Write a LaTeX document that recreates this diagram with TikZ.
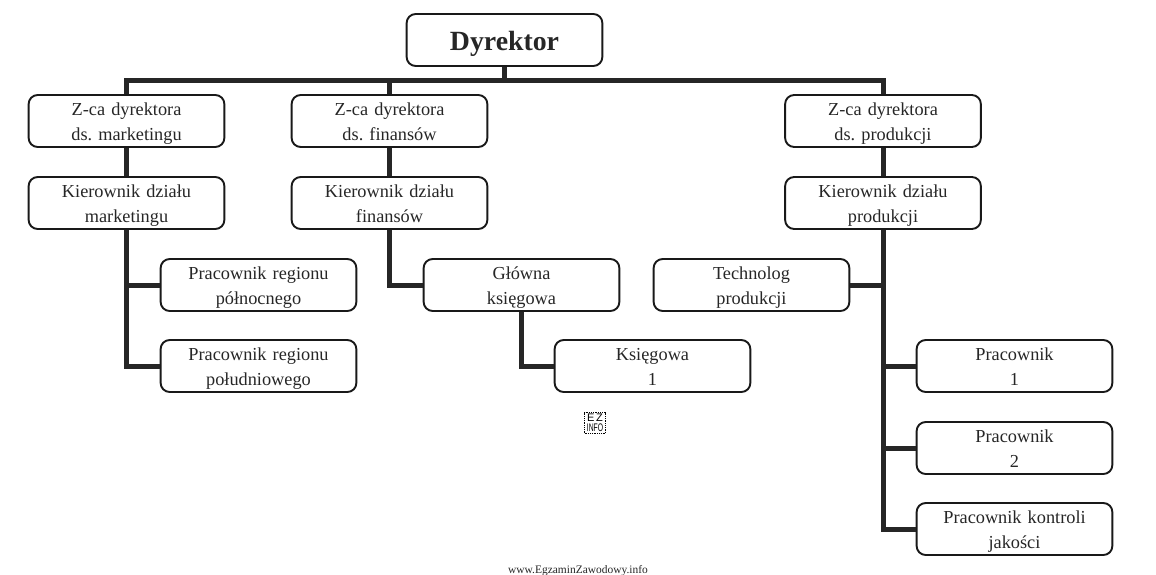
\documentclass[tikz,border=0pt]{standalone}
\usepackage{fontspec}
\setmainfont{Liberation Serif}
\newfontfamily\ezfont{Liberation Sans}
\frenchspacing
\tikzset{
 x=1pt,y=-1pt,
 boxbase/.style={draw=black!90,line width=1.9pt,rounded corners=9pt,minimum width=195.7pt,minimum height=52pt,inner sep=0pt,align=center,text=black!85},
 box/.style={boxbase,text width=195.7pt,font=\fontsize{18.3}{25}\selectfont\frenchspacing,execute at begin node={\rule{0pt}{20pt}},execute at end node={\rule[-6pt]{0pt}{6pt}}},
 boss/.style={boxbase,font=\fontsize{27.8}{30}\selectfont\bfseries,execute at begin node={\rule{0pt}{27pt}}},
 link/.style={line width=5pt,draw=black!85,line cap=butt,line join=miter},
}
\begin{document}
\begin{tikzpicture}
\useasboundingbox (0,0) rectangle (1156,575);
\node[boss] (d) at (504.5,40) {Dyrektor};
\node[box] (z1) at (126.5,121) {Z-ca dyrektora\\ds. marketingu};
\node[box] (z2) at (389.5,121) {Z-ca dyrektora\\ds. finansów};
\node[box] (z3) at (883,121) {Z-ca dyrektora\\ds. produkcji};
\node[box] (k1) at (126.5,203) {Kierownik działu\\marketingu};
\node[box] (k2) at (389.5,203) {Kierownik działu\\finansów};
\node[box] (k3) at (883,203) {Kierownik działu\\produkcji};
\node[box] (p1) at (258.5,285) {Pracownik regionu\\północnego};
\node[box] (p2) at (258.5,366) {Pracownik regionu\\południowego};
\node[box] (g) at (521.5,285) {Główna\\księgowa};
\node[box] (ks) at (652.5,366) {Księgowa\\1};
\node[box] (t) at (751.5,285) {Technolog\\produkcji};
\node[box] (w1) at (1014.5,366) {Pracownik\\1};
\node[box] (w2) at (1014.5,448) {Pracownik\\2};
\node[box] (w3) at (1014.5,529) {Pracownik kontroli\\jakości};
\coordinate (bus) at (504.5,80.5);
\draw[link] (z1.north) |- (bus) -| (z3.north);
\draw[link] (d.south) -- (bus);
\draw[link] (z2.north) -- (z2.north |- bus);
\draw[link] (z1.south) -- (k1.north);
\draw[link] (z2.south) -- (k2.north);
\draw[link] (z3.south) -- (k3.north);
\draw[link] (k1.south) |- (p2.west);
\draw[link] (k1.south |- p1.west) -- (p1.west);
\draw[link] (k2.south) |- (g.west);
\draw[link] (g.south) |- (ks.west);
\draw[link] (k3.south) |- (w3.west);
\draw[link] (k3.south |- t.east) -- (t.east);
\draw[link] (k3.south |- w1.west) -- (w1.west);
\draw[link] (k3.south |- w2.west) -- (w2.west);
\node[draw=black,densely dotted,line width=.8pt,minimum width=21pt,minimum height=21pt,inner sep=0pt,align=center,font=\ezfont\fontsize{11}{10}\selectfont] (ez) at (595,423) {E\,Z\\\scalebox{.62}[1]{INFO}};
\node[inner sep=0pt,font=\fontsize{11.45}{13}\selectfont,text=black!85] (www) at (578,571) {www.EgzaminZawodowy.info};
\end{tikzpicture}
\end{document}
